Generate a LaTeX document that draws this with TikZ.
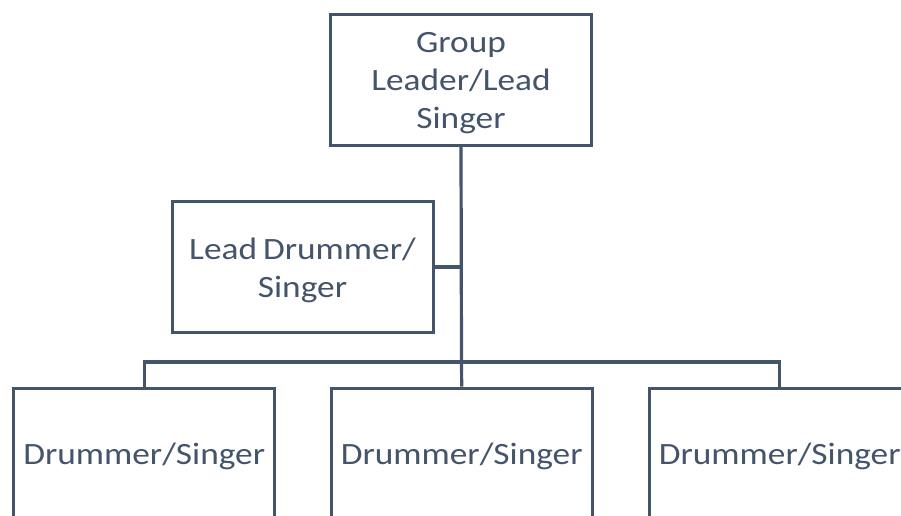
\documentclass[tikz,border=0pt]{standalone}
\usepackage{fontspec}
\setmainfont{Carlito}[FakeStretch=1.14]
\definecolor{slate}{HTML}{44546A}
\newcommand{\boxtext}[1]{\parbox{255pt}{\vspace*{6pt}\centering\fontsize{31}{38}\selectfont #1}}
\begin{document}
\begin{tikzpicture}[x=1pt,y=-1pt,
  box/.style={draw=slate,line width=3pt,fill=white,rectangle,minimum width=261pt,minimum height=131pt,inner sep=0pt,text=slate},
  conn/.style={draw=slate,line width=3.2pt}]
\useasboundingbox (0,0) rectangle (901,515);
\node[box] (top) at (461,80) {\boxtext{Group\\Leader/Lead\\Singer}};
\node[box] (lead) at (302.5,267) {\boxtext{Lead\hspace{-2pt} Drummer/\\Singer}};
\node[box] (b1) at (144.2,453.5) {\boxtext{Drummer/Singer}};
\node[box] (b2) at (461.7,453.5) {\boxtext{Drummer/Singer}};
\node[box] (b3) at (779.7,453.5) {\boxtext{Drummer/Singer}};
\coordinate (j) at (461.5,362);
\draw[conn] (top.south) -- (j);
\draw[conn] (lead.east) -- (lead.east -| j);
\draw[conn] (b1.north) |- (j) -| (b3.north);
\draw[conn] (j) -- (b2.north);
\end{tikzpicture}
\end{document}
